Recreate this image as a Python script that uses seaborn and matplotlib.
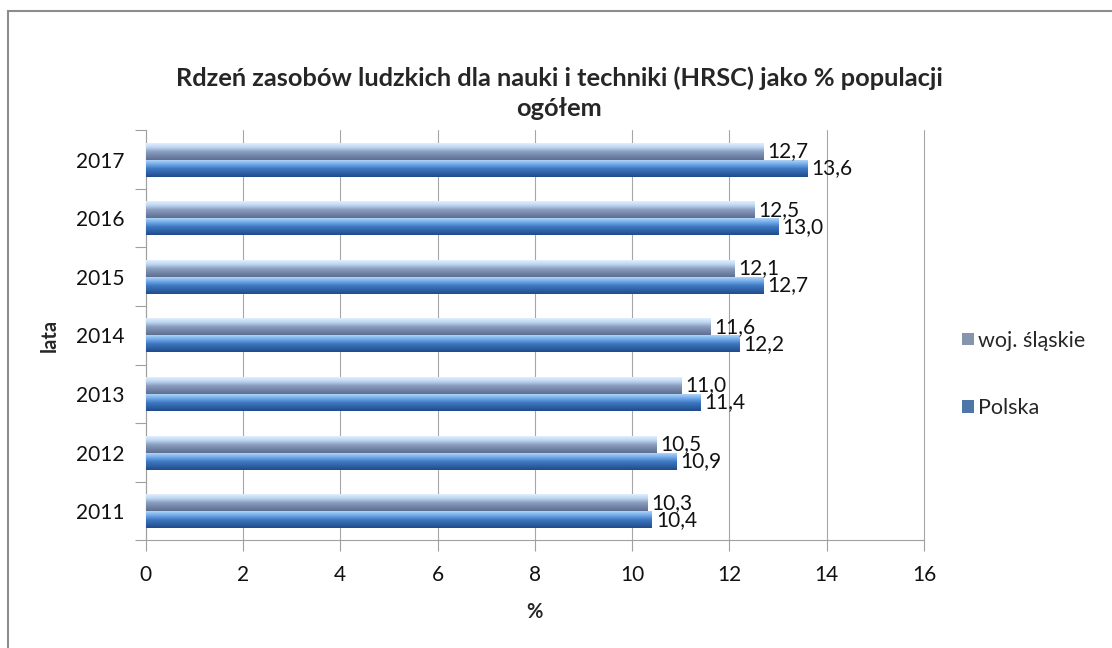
import matplotlib
matplotlib.use("Agg")
import matplotlib.pyplot as plt
import matplotlib.patches as mpatches
from matplotlib.colors import LinearSegmentedColormap
import numpy as np
import pandas as pd
import seaborn as sns

# data
years = ["2017", "2016", "2015", "2014", "2013", "2012", "2011"]
slaskie = [12.7, 12.5, 12.1, 11.6, 11.0, 10.5, 10.3]
polska = [13.6, 13.0, 12.7, 12.2, 11.4, 10.9, 10.4]
series = ["woj. śląskie", "Polska"]

df = pd.DataFrame({
    "rok": years * 2,
    "seria": [series[0]] * len(years) + [series[1]] * len(years),
    "wartosc": slaskie + polska,
})

sns.set_style("white")
plt.rcParams["font.family"] = ["Lato", "DejaVu Sans"]

fig = plt.figure(figsize=(11.12, 6.48), dpi=100)
ax = fig.add_axes([0.131, 0.166, 0.70, 0.633])

base_colors = {series[0]: "#7f93b5", series[1]: "#3f74b8"}
sns.barplot(data=df, y="rok", x="wartosc", hue="seria", order=years,
            hue_order=series, palette=base_colors, orient="h", width=0.58,
            edgecolor="none", legend=True, ax=ax)

# gradient (glossy) look for each bar
grads = {
    series[0]: LinearSegmentedColormap.from_list(
        "sl", ["#e2eefc", "#bcd6f2", "#8b9fc0", "#7385a8", "#5d6e90"]),
    series[1]: LinearSegmentedColormap.from_list(
        "pl", ["#b0d4f7", "#6fa9e8", "#4079c2", "#2f62a8", "#204b88"]),
}
grad = np.linspace(0, 1, 64).reshape(-1, 1)
for cont, name in zip(ax.containers, series):
    for p in cont.patches:
        x0, y0 = p.get_x(), p.get_y()
        w, h = p.get_width(), p.get_height()
        ax.imshow(grad, cmap=grads[name], aspect="auto",
                  extent=[x0, x0 + w, y0 + h, y0], zorder=3,
                  interpolation="bilinear")
    labels = [f"{v:.1f}".replace(".", ",") for v in cont.datavalues]
    ax.bar_label(cont, labels=labels, padding=3, fontsize=15, color="#111111",
                 zorder=4)

ax.set_xlim(0, 16)
ax.set_ylim(len(years) - 0.5, -0.5)
ax.set_xticks(range(0, 17, 2))
ax.tick_params(axis="x", labelsize=15, length=8, width=0.8, direction="out",
               color="#a0a0a0", bottom=True, pad=10, labelcolor="#111111")
ax.tick_params(axis="y", labelsize=15, length=0, pad=15, labelcolor="#111111")
ax.set_yticks(np.arange(-0.5, len(years), 1), minor=True)
ax.tick_params(axis="y", which="minor", length=8, width=0.8, color="#a0a0a0",
               left=True)
ax.xaxis.grid(True, color="#a6a6a6", linewidth=0.8)
ax.set_axisbelow(True)
for gl in ax.get_xgridlines():
    gl.set_clip_on(False)
for s in ["top", "right"]:
    ax.spines[s].set_visible(False)
for s in ["left", "bottom"]:
    ax.spines[s].set_color("#a0a0a0")
    ax.spines[s].set_linewidth(0.8)

ax.set_xlabel("%", fontsize=14.5, fontweight="bold", labelpad=12)
ax.set_ylabel("lata", fontsize=14.5, fontweight="bold")
ax.yaxis.set_label_coords(-0.111, 0.5)

fig.suptitle("Rdzeń zasobów ludzkich dla nauki i techniki (HRSC) jako % populacji\nogółem",
             fontsize=18.3, fontweight="bold", x=0.503, y=0.897, linespacing=1.35)

handles, labs = ax.get_legend_handles_labels()
ax.legend(handles, labs, loc="center left", bbox_to_anchor=(1.024, 0.405),
          frameon=False, fontsize=15.5, handlelength=0.55, handleheight=0.55,
          handletextpad=0.2, labelspacing=2.2)

fig.patches.append(mpatches.Rectangle((0.0075, -0.1), 1.1, 1.083,
                                      transform=fig.transFigure, fill=False,
                                      edgecolor="#8c8c8c", linewidth=1.5))

fig.savefig("out.png", dpi=100)
